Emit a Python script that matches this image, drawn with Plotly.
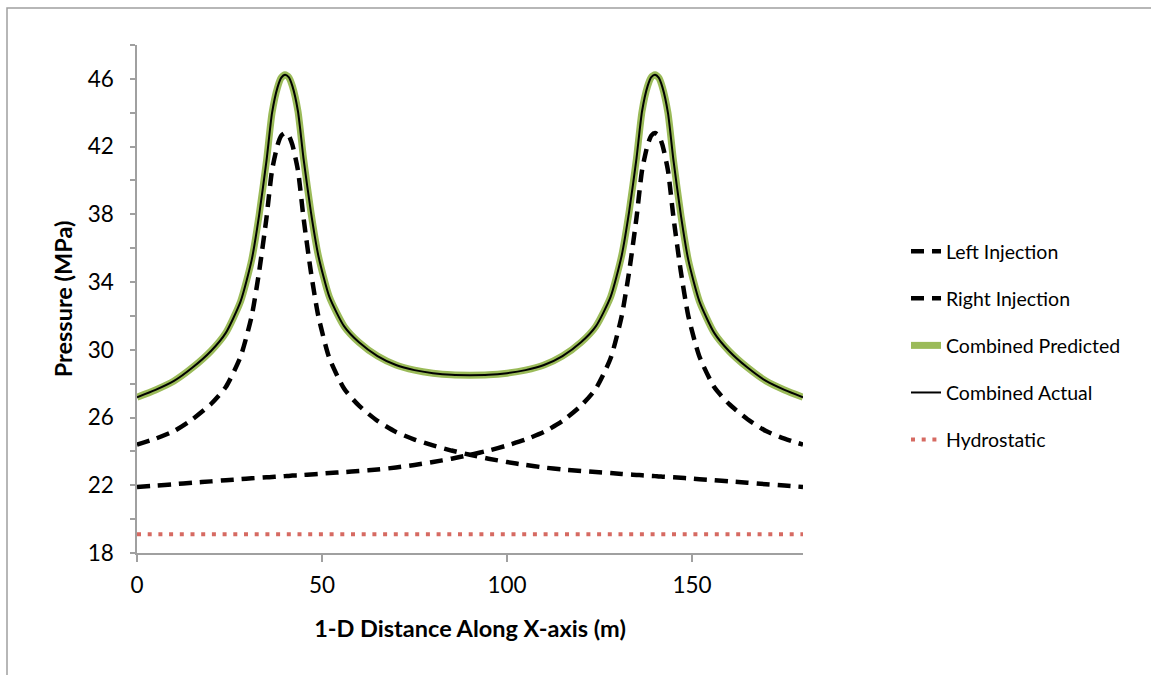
import plotly.graph_objects as go

# Distance along the x-axis (m); denser sampling around the two injection wells
distance_m = [0, 5, 10, 15, 20, 24, 28, 31, 33, 35, 36.5, 38, 39, 40, 41, 42, 43.5, 45, 47, 49,
              52, 56, 60, 65, 70, 75, 80, 85, 90, 95, 100, 105, 110, 115, 120, 124, 128, 131,
              133, 135, 136.5, 138, 139, 140, 141, 142, 143.5, 145, 147, 149, 152, 156, 160,
              165, 170, 175, 180]

# Pressure (MPa) from the left well only
left_injection = [24.4, 24.75, 25.2, 25.9, 26.8, 27.8, 29.6, 32.0, 34.6, 37.8, 40.6, 42.1, 42.65,
                  42.8, 42.65, 42.1, 40.6, 37.8, 34.6, 32.0, 29.5, 27.7, 26.7, 25.8, 25.15, 24.7,
                  24.35, 24.05, 23.8, 23.57, 23.37, 23.2, 23.05, 22.93, 22.84, 22.78, 22.72, 22.67,
                  22.64, 22.61, 22.59, 22.57, 22.55, 22.54, 22.52, 22.51, 22.49, 22.47, 22.44,
                  22.41, 22.36, 22.3, 22.23, 22.15, 22.06, 21.98, 21.9]

# Pressure (MPa) from the right well only
right_injection = [21.9, 21.98, 22.06, 22.15, 22.23, 22.3, 22.36, 22.41, 22.44, 22.47, 22.49,
                   22.51, 22.52, 22.54, 22.55, 22.57, 22.59, 22.61, 22.64, 22.67, 22.72, 22.78,
                   22.84, 22.93, 23.05, 23.2, 23.37, 23.57, 23.8, 24.05, 24.35, 24.7, 25.15, 25.8,
                   26.7, 27.7, 29.5, 32.0, 34.6, 37.8, 40.6, 42.1, 42.65, 42.8, 42.65, 42.1, 40.6,
                   37.8, 34.6, 32.0, 29.6, 27.8, 26.8, 25.9, 25.2, 24.75, 24.4]

# Superposed pressure (MPa), predicted and actual
combined_predicted = [27.2, 27.63, 28.16, 28.95, 29.93, 31.0, 32.86, 35.31, 37.94, 41.17, 43.99,
                      45.51, 46.07, 46.24, 46.1, 45.57, 44.09, 41.31, 38.14, 35.57, 33.12, 31.38,
                      30.44, 29.63, 29.1, 28.8, 28.62, 28.52, 28.5, 28.52, 28.62, 28.8, 29.1,
                      29.63, 30.44, 31.38, 33.12, 35.57, 38.14, 41.31, 44.09, 45.57, 46.1, 46.24,
                      46.07, 45.51, 43.99, 41.17, 37.94, 35.31, 32.86, 31.0, 29.93, 28.95, 28.16,
                      27.63, 27.2]
combined_actual = [27.2, 27.63, 28.16, 28.95, 29.93, 31.0, 32.86, 35.31, 37.94, 41.17, 43.99,
                   45.51, 46.07, 46.24, 46.1, 45.57, 44.09, 41.31, 38.14, 35.57, 33.12, 31.38,
                   30.44, 29.63, 29.1, 28.8, 28.62, 28.52, 28.5, 28.52, 28.62, 28.8, 29.1,
                   29.63, 30.44, 31.38, 33.12, 35.57, 38.14, 41.31, 44.09, 45.57, 46.1, 46.24,
                   46.07, 45.51, 43.99, 41.17, 37.94, 35.31, 32.86, 31.0, 29.93, 28.95, 28.16,
                   27.63, 27.2]

# Hydrostatic pressure (MPa)
hydro_x = [0, 180]
hydrostatic = [19.1, 19.1]

# Axis ticks
x_ticks = [0, 50, 100, 150]
y_ticks = [18, 20, 22, 24, 26, 28, 30, 32, 34, 36, 38, 40, 42, 44, 46, 48]
y_labels = ["18", "", "22", "", "26", "", "30", "", "34", "", "38", "", "42", "", "46", ""]

FONT = "Lato, 'Open Sans', sans-serif"
AXIS_GREY = "#A0A0A0"

fig = go.Figure()

fig.add_trace(go.Scatter(
    x=distance_m, y=left_injection, name="Left Injection", mode="lines",
    line=dict(color="black", width=4.5, dash="13px,8px", shape="spline", smoothing=0.6),
    legendgroup="a"))
fig.add_trace(go.Scatter(
    x=distance_m, y=right_injection, name="Right Injection", mode="lines",
    line=dict(color="black", width=4.5, dash="13px,8px", shape="spline", smoothing=0.6),
    legendgroup="b"))
fig.add_trace(go.Scatter(
    x=distance_m, y=combined_predicted, name="Combined Predicted", mode="lines",
    line=dict(color="#9BBB59", width=7, shape="spline", smoothing=0.6),
    legendgroup="c"))
fig.add_trace(go.Scatter(
    x=distance_m, y=combined_actual, name="Combined Actual", mode="lines",
    line=dict(color="black", width=2, shape="spline", smoothing=0.6),
    legendgroup="d"))
fig.add_trace(go.Scatter(
    x=hydro_x, y=hydrostatic, name="Hydrostatic", mode="lines",
    line=dict(color="#D66A62", width=4, dash="4px,6.7px"),
    legendgroup="e"))

fig.update_layout(
    width=1151, height=675,
    margin=dict(l=137, r=348, t=45, b=122),
    paper_bgcolor="white", plot_bgcolor="white",
    font=dict(family=FONT, color="black", size=22),
    showlegend=True,
    legend=dict(
        x=(906 - 137) / 666, y=(553 - 232) / 508, xanchor="left", yanchor="top",
        font=dict(family=FONT, size=19.5, color="black"),
        tracegroupgap=18.75, bgcolor="rgba(0,0,0,0)"),
    xaxis=dict(
        range=[0, 180], tickvals=x_ticks, ticks="outside", ticklen=7, tickwidth=1.5,
        tickcolor=AXIS_GREY, showline=True, linecolor=AXIS_GREY, linewidth=1.5,
        showgrid=False, zeroline=False, ticklabelstandoff=4,
        tickfont=dict(family=FONT, size=22.5),
        title=dict(text="<b>1-D Distance Along X-axis (m)</b>", standoff=24,
                   font=dict(family=FONT, size=23.5))),
    yaxis=dict(
        range=[18, 48], tickvals=y_ticks, ticktext=y_labels, ticks="outside", ticklen=5,
        tickwidth=1.5, tickcolor=AXIS_GREY, showline=True, linecolor=AXIS_GREY,
        linewidth=1.5, showgrid=False, zeroline=False, ticklabelstandoff=12,
        tickfont=dict(family=FONT, size=22.5),
        title=dict(text="<b>Pressure (MPa)</b>", standoff=8,
                   font=dict(family=FONT, size=23.5))),
    shapes=[
        dict(type="rect", xref="paper", yref="paper",
             x0=(7 - 137) / 666, x1=(1170 - 137) / 666,
             y0=(553 - 700) / 508, y1=(553 - 8) / 508,
             line=dict(color=AXIS_GREY, width=1.5), fillcolor="rgba(0,0,0,0)", layer="below"),
    ],
)

fig.write_html("out.html")
